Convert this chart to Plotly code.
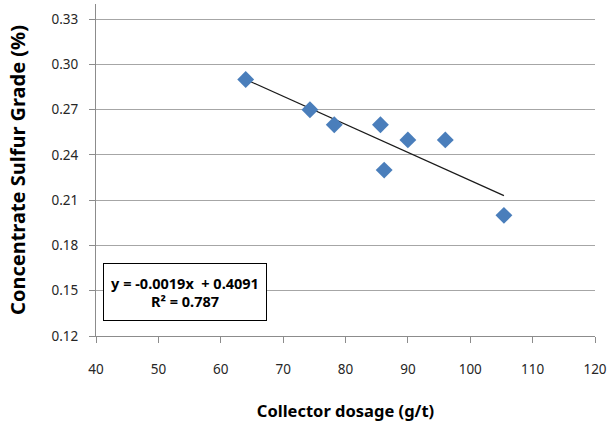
import numpy as np
import plotly.graph_objects as go

# Collector dosage (g/t) and concentrate sulfur grade (%)
dosage = [64.0, 74.3, 78.2, 85.6, 86.2, 90.0, 96.0, 105.4]
sulfur_grade = [0.29, 0.27, 0.26, 0.26, 0.23, 0.25, 0.25, 0.20]

# Linear trend line coefficients and fit quality
slope = -0.00186
intercept = 0.4091
r_squared = 0.787

x_ticks = [40, 50, 60, 70, 80, 90, 100, 110, 120]
y_ticks = [0.12, 0.15, 0.18, 0.21, 0.24, 0.27, 0.30, 0.33]
y_tick_text = [f"{v:.2f}" for v in y_ticks]

tick_font = dict(family="Noto Sans, sans-serif", size=13.5, color="#262626")

fig = go.Figure()

# Trend line across the observed dosage range
trend_x = np.array([min(dosage), max(dosage)])
trend_y = slope * trend_x + intercept
fig.add_trace(go.Scatter(
    x=trend_x, y=trend_y, mode="lines",
    line=dict(color="#1a1a1a", width=1.2),
    hoverinfo="skip", showlegend=False,
))

fig.add_trace(go.Scatter(
    x=dosage, y=sulfur_grade, mode="markers",
    marker=dict(symbol="diamond", size=13, color="#4a7ebb",
                line=dict(color="#4a7ebb", width=0)),
    showlegend=False,
))

fig.add_annotation(
    x=54.3, y=0.1492, xref="x", yref="y",
    text=f"<b>y = {slope:.4f}x  + {intercept:.4f}<br>R² = {r_squared:.3f}</b>",
    showarrow=False, align="center",
    font=dict(family="Noto Sans, sans-serif", size=14.5, color="#000000"),
    bgcolor="#ffffff", bordercolor="#000000", borderwidth=1,
    width=160, height=54, borderpad=1,
)

fig.update_layout(
    width=610, height=423,
    margin=dict(l=96, r=15, t=4, b=87),
    paper_bgcolor="#ffffff", plot_bgcolor="#ffffff",
    xaxis=dict(
        range=[40, 120], tickvals=x_ticks, ticktext=[str(v) for v in x_ticks],
        showgrid=False, zeroline=False,
        showline=True, linecolor="#8c8c8c", linewidth=1,
        ticks="outside", ticklen=6, tickcolor="#8c8c8c",
        tickfont=tick_font, ticklabelstandoff=15,
        title=dict(text="<b>Collector dosage (g/t)</b>",
                   font=dict(family="Noto Sans, sans-serif", size=16.5, color="#000000"),
                   standoff=28),
    ),
    yaxis=dict(
        range=[0.12, 0.3401], tickvals=y_ticks, ticktext=y_tick_text,
        showgrid=True, gridcolor="#a6a6a6", gridwidth=1, zeroline=False,
        showline=True, linecolor="#8c8c8c", linewidth=1,
        ticks="outside", ticklen=6, tickcolor="#8c8c8c",
        tickfont=tick_font, ticklabelstandoff=8,
        title=dict(text="<b>Concentrate Sulfur Grade (%)</b>",
                   font=dict(family="Noto Sans, sans-serif", size=20, color="#000000"),
                   standoff=20),
    ),
)

fig.write_html("out.html")
